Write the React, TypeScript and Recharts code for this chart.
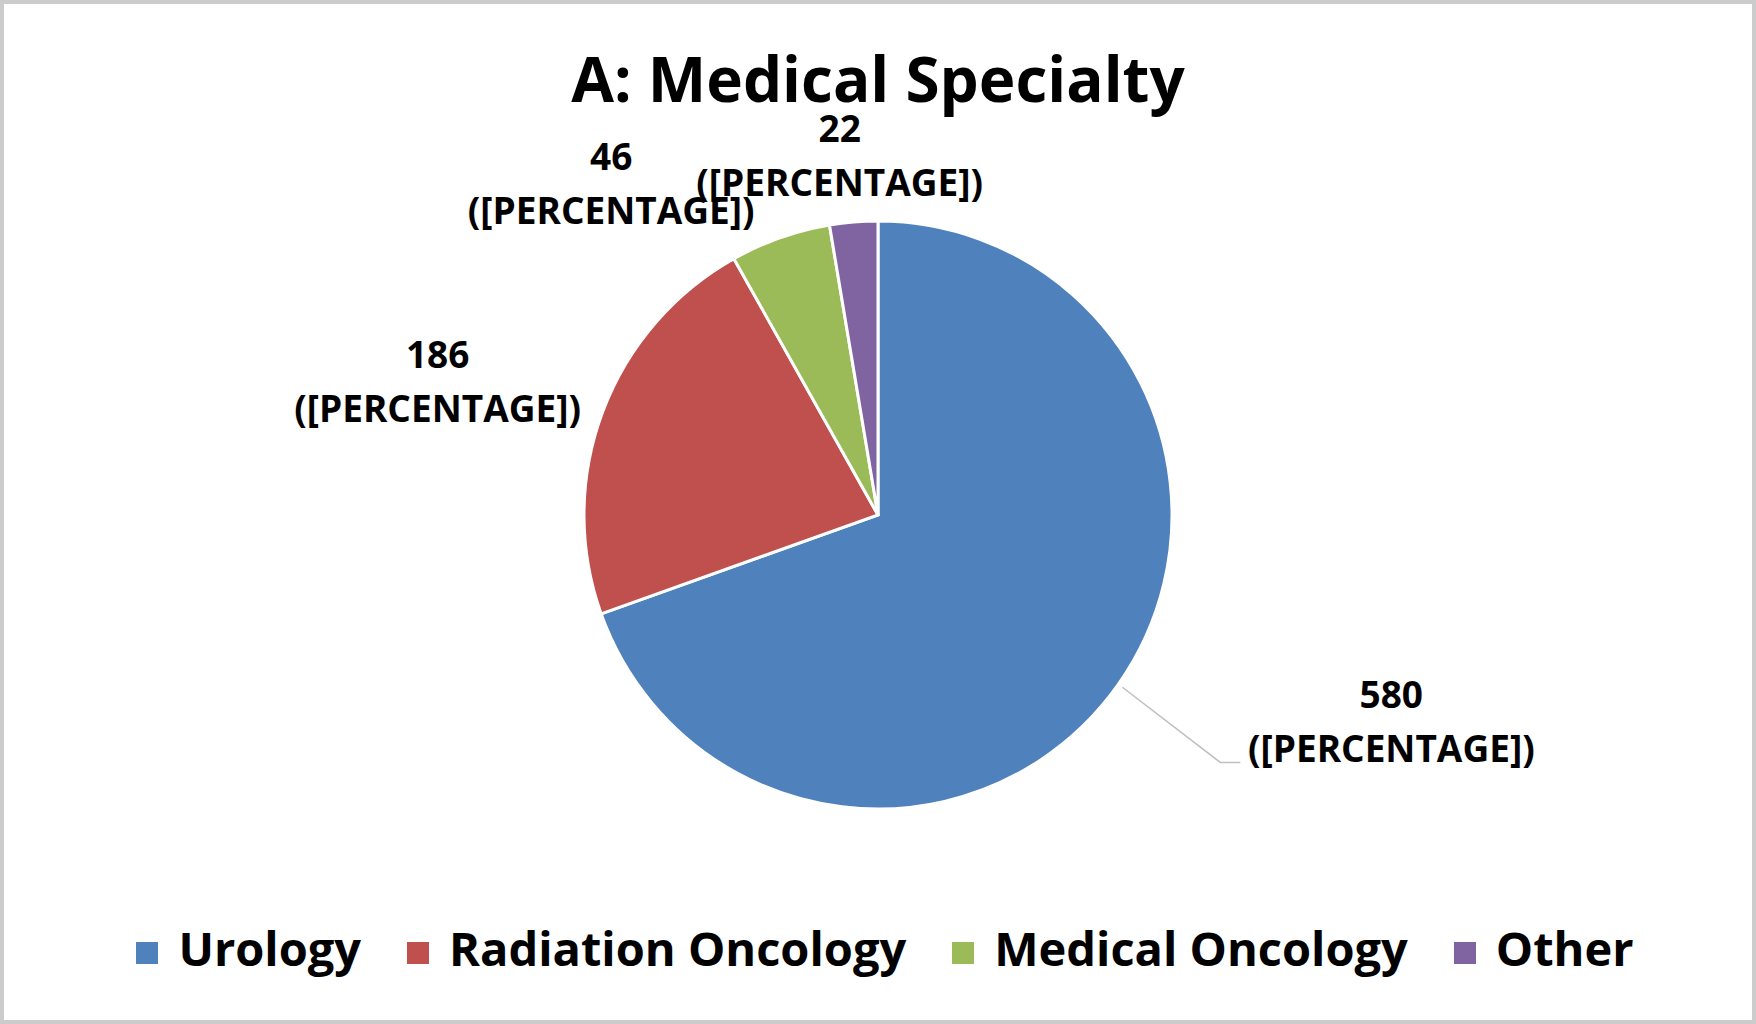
import React from "react";
import { PieChart, Pie, Cell, Legend } from "recharts";

const categories = ["Urology", "Radiation Oncology", "Medical Oncology", "Other"];
const counts = [580, 186, 46, 22];
const percentText = "([PERCENTAGE])";
const sliceColors = ["#4F81BD", "#C0504D", "#9BBB59", "#8064A2"];

// where each label's first baseline sits, measured from the slice's outer edge at mid-angle
const labelOffsets = [
  [273, 24],
  [-165, -44],
  [-169, -68],
  [-14, -80],
];

const FONT = "'Open Sans', sans-serif";
const RAD = Math.PI / 180;

const data = categories.map((name, i) => ({ name, value: counts[i] }));

const renderLabel = (props: any) => {
  const { cx, cy, midAngle, outerRadius, index, value } = props;
  const ex = cx + outerRadius * Math.cos(-midAngle * RAD);
  const ey = cy + outerRadius * Math.sin(-midAngle * RAD);
  const [dx, dy] = labelOffsets[index];
  const x = ex + dx;
  const y = ey + dy;
  const sx = cx + (outerRadius + 5) * Math.cos(-midAngle * RAD);
  const sy = cy + (outerRadius + 5) * Math.sin(-midAngle * RAD);
  return (
    <g key={`lbl-${index}`}>
      {index === 0 && (
        <polyline
          points={`${sx},${sy} ${x - 171},${y + 54} ${x - 151},${y + 54}`}
          fill="none"
          stroke="#bfbfbf"
          strokeWidth={1.5}
        />
      )}
      <text
        x={x}
        y={y}
        textAnchor="middle"
        fontFamily={FONT}
        fontWeight={700}
        fontSize={37}
        fill="#000"
      >
        <tspan x={x} y={y}>
          {value}
        </tspan>
        <tspan x={x} y={y + 54}>
          {percentText}
        </tspan>
      </text>
    </g>
  );
};

const renderLegend = (props: any) => {
  const items = [...(props.payload || [])].sort(
    (a: any, b: any) => categories.indexOf(a.value) - categories.indexOf(b.value)
  );
  return (
    <div
      style={{
        display: "flex",
        justifyContent: "center",
        alignItems: "center",
        fontFamily: FONT,
        fontWeight: 700,
        fontSize: 47,
        lineHeight: "47px",
        color: "#000",
        paddingLeft: 14,
      }}
    >
      {items.map((entry: any, i: number) => (
        <div
          key={entry.value}
          style={{ display: "flex", alignItems: "center", marginLeft: i === 0 ? 0 : 46 }}
        >
          <span
            style={{
              display: "inline-block",
              width: 22,
              height: 22,
              background: entry.color,
              marginRight: 20,
              marginTop: 8,
            }}
          />
          <span>{entry.value}</span>
        </div>
      ))}
    </div>
  );
};

export default function App() {
  return (
    <div
      style={{
        position: "absolute",
        left: 0,
        top: 0,
        width: 1756,
        height: 1024,
        background: "#fff",
        border: "4px solid #cccccc",
        boxSizing: "border-box",
      }}
    >
      <div
        style={{
          position: "absolute",
          left: -4,
          top: 43,
          width: 1756,
          textAlign: "center",
          fontFamily: FONT,
          fontWeight: 700,
          fontSize: 62,
          lineHeight: "62px",
          color: "#000",
        }}
      >
        A: Medical Specialty
      </div>
      <div style={{ position: "absolute", left: -4, top: -4 }}>
        <PieChart width={1756} height={1024} margin={{ top: 0, right: 0, bottom: 0, left: 0 }}>
          <Pie
            data={data}
            dataKey="value"
            nameKey="name"
            cx={878}
            cy={515}
            outerRadius={294}
            startAngle={90}
            endAngle={-270}
            stroke="#fff"
            strokeWidth={3}
            label={renderLabel}
            labelLine={false}
            isAnimationActive={false}
          >
            {data.map((d, i) => (
              <Cell key={d.name} fill={sliceColors[i]} />
            ))}
          </Pie>
          <Legend
            content={renderLegend}
            verticalAlign="bottom"
            wrapperStyle={{ top: 925, bottom: "auto", left: 0, width: 1756 }}
          />
        </PieChart>
      </div>
    </div>
  );
}
